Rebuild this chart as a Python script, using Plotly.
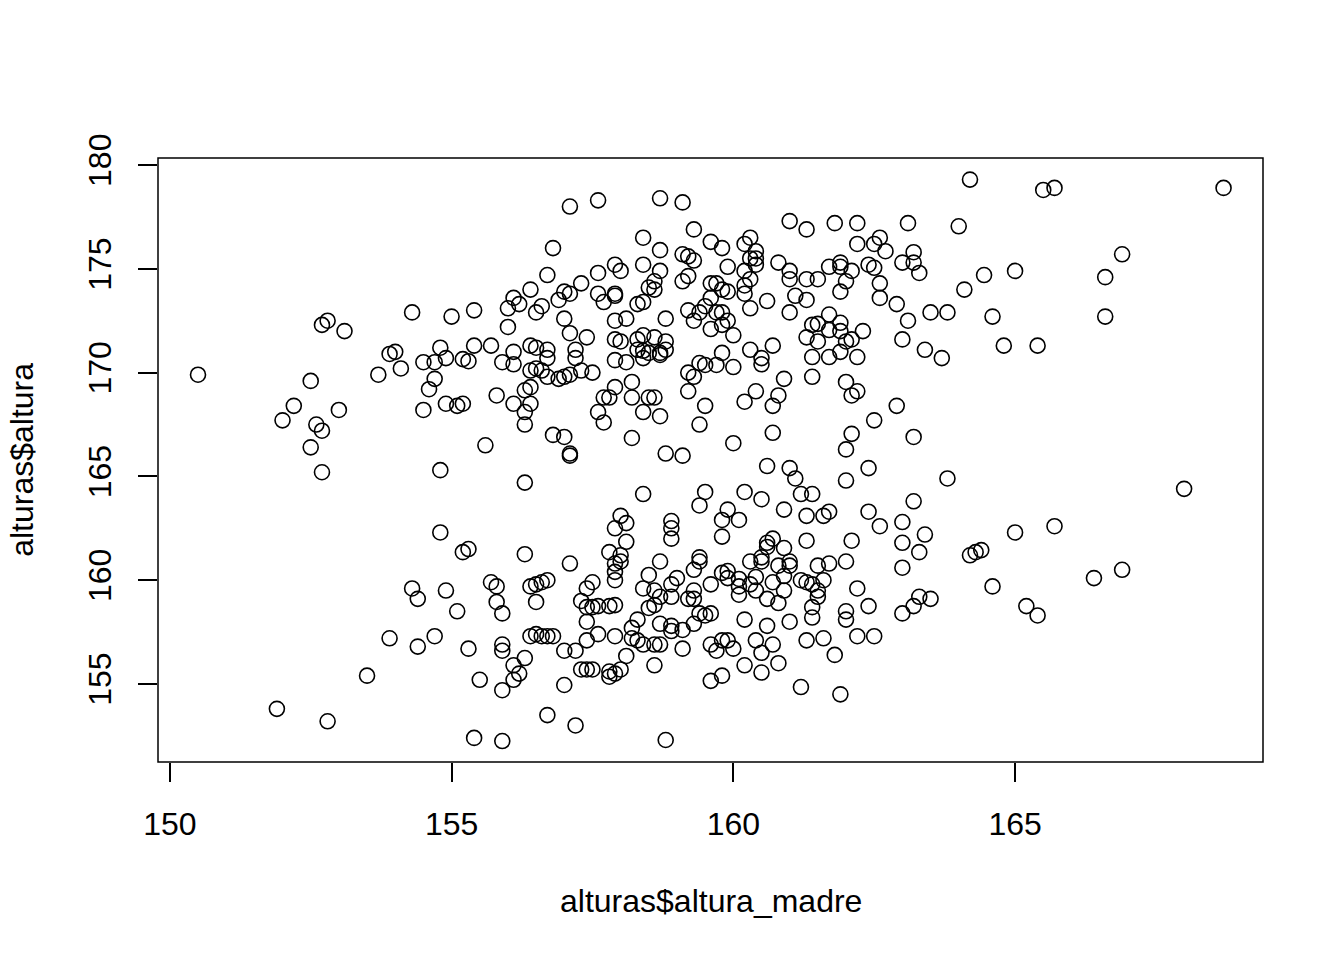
import plotly.graph_objects as go

# altura de la madre (x) y altura del hijo/a (y)
pts = [
(150.5,169.9),(152.5,169.6),(152.2,168.4),(152.0,167.7),(153.0,168.2),(152.6,167.5),(152.7,167.2),
(152.5,166.4),(152.7,165.2),(153.7,169.9),(154.1,170.2),(153.9,170.9),(154.0,171.0),(154.5,170.5),
(154.7,170.5),(154.7,169.7),(154.6,169.2),(154.5,168.2),(154.8,165.3),(154.3,172.9),(152.7,172.3),
(152.8,172.5),(153.1,172.0),
(154.9,170.7),(155.2,170.65),(155.3,170.55),(155.9,170.5),(156.1,170.4),(156.4,170.1),(156.5,170.2),
(156.6,170.1),(156.7,169.8),(156.7,170.7),(156.9,169.7),(157.0,169.8),(157.1,169.9),(157.2,170.7),
(157.3,170.1),(157.5,170.0),(157.9,170.6),(158.1,170.5),(158.4,170.7),(158.7,170.85),(159.4,170.46),
(159.5,170.37),(159.2,170.0),(159.3,169.8),(155.8,168.9),(154.9,168.5),(155.1,168.4),(155.2,168.5),
(156.1,168.5),(156.3,169.15),(156.4,169.3),(156.4,168.5),(156.3,168.1),(156.3,167.5),(157.7,168.8),
(157.8,168.8),(157.9,169.3),(158.2,169.55),(158.2,168.8),(158.4,168.1),(158.5,168.8),(158.6,168.8),
(158.7,167.9),(157.6,168.1),(157.7,167.6),(159.2,169.1),(159.5,168.4),(159.4,167.5),(156.8,167.0),
(157.0,166.9),(157.1,166.0),(157.1,166.1),(158.2,166.85),(158.8,166.1),(159.1,166.0),(155.6,166.5),
(156.3,164.7),(158.4,164.15),(159.5,164.25),(159.4,163.6),(158.0,163.1),(157.9,162.5),(158.1,162.75),
(158.1,161.85),(158.9,162.85),(158.9,162.5),(158.9,162.0),(154.8,162.3),(155.2,161.35),(155.3,161.5),
(156.3,161.25),(157.8,161.35),(158.0,161.2),(159.4,161.1),
(157.1,178.0),(157.6,178.3),(158.7,178.4),(159.1,178.2),(159.3,176.9),(159.6,176.3),(156.8,176.0),
(158.4,176.5),(158.7,175.9),(159.1,175.7),(159.2,175.6),(159.3,175.4),(158.4,175.2),(158.7,174.9),
(159.1,174.4),(159.2,174.65),(158.6,174.4),(158.5,174.1),(158.6,174.0),(157.9,175.2),(158.0,174.9),
(157.6,174.8),(156.7,174.7),(157.3,174.3),(157.0,173.9),(157.1,173.8),(156.9,173.5),(157.6,173.8),
(157.7,173.4),(157.9,173.8),(157.9,173.7),(158.3,173.3),(158.4,173.4),(158.8,172.6),(157.9,172.5),
(158.1,172.6),(156.4,174.0),(156.1,173.6),(156.2,173.3),(156.0,173.1),(156.6,173.2),(156.5,172.9),
(156.0,172.2),(155.4,173.0),(155.0,172.7),(157.9,171.6),(158.0,171.5),(157.4,171.7),(158.3,171.6),
(158.4,171.8),(158.6,171.7),(158.8,171.5),(158.8,171.1),(158.3,171.1),(158.4,171.05),(158.5,170.95),
(158.7,170.95),(154.8,171.2),(155.4,171.3),(155.7,171.3),(156.1,171.0),(156.4,171.3),(156.5,171.2),
(156.7,171.1),(157.2,171.1),(157.0,172.6),(157.1,171.9),(159.2,173.0),(159.4,172.9),(159.3,172.5),
(164.2,179.3),(161.0,177.3),(161.3,176.9),(161.8,177.2),(162.2,177.2),(163.1,177.2),(164.0,177.05),
(159.8,176.0),(160.2,176.2),(160.3,176.5),(160.4,175.85),(160.4,175.5),(160.3,175.5),(160.4,175.2),
(160.2,174.9),(159.9,175.1),(160.3,174.5),(160.8,175.3),(161.0,174.9),(161.0,174.5),(161.3,174.5),
(161.5,174.5),(161.7,175.1),(161.9,175.3),(161.9,175.1),(162.1,174.9),(162.0,174.4),(161.9,173.9),
(162.2,176.2),(162.5,176.2),(162.6,176.5),(162.7,175.85),(162.4,175.2),(162.5,175.05),(162.6,174.3),
(162.6,173.6),(163.0,175.3),(163.2,175.8),(163.2,175.3),(163.3,174.8),(162.9,173.3),(163.1,172.5),
(163.0,171.6),(163.4,171.1),(163.7,170.7),(163.5,172.9),(163.8,172.9),(164.1,174.0),(164.45,174.7),
(159.6,174.3),(159.7,174.3),(159.8,174.0),(159.9,173.9),(159.6,173.6),(159.5,173.2),(159.8,172.9),
(159.7,172.9),(159.6,172.1),(159.8,172.3),(160.0,171.8),(159.9,172.5),(159.8,170.95),(160.3,171.1),
(160.5,170.7),(160.7,171.3),(160.2,174.2),(160.2,173.8),(160.6,173.45),(160.3,173.1),(161.1,173.7),
(161.3,173.5),(161.0,172.9),(161.7,172.8),(161.9,172.4),(161.7,172.05),(161.9,172.0),(162.0,171.5),
(162.1,171.6),(162.3,172.0),(161.4,172.3),(161.5,172.35),(161.3,171.7),(161.5,171.5),(161.9,171.0),
(162.2,170.75),(161.7,170.75),(161.4,170.75),
(165.5,178.8),(165.7,178.9),(168.7,178.9),(166.9,175.7),(165.0,174.9),(166.6,174.6),(164.6,172.7),
(166.6,172.7),(164.8,171.3),(165.4,171.3),
(159.7,170.37),(160.0,170.27),(160.5,170.4),(160.9,169.7),(161.4,169.8),(162.0,169.55),(162.1,168.9),
(162.2,169.1),(160.4,169.1),(160.2,168.6),(160.8,168.9),(160.7,168.4),(162.9,168.4),(162.5,167.7),
(160.7,167.1),(160.0,166.6),(162.1,167.05),(162.0,166.3),(163.2,166.9),(160.6,165.5),(161.0,165.4),
(161.1,164.9),(162.0,164.8),(162.4,165.4),(163.8,164.9),(160.2,164.25),(160.5,163.9),(161.2,164.15),
(161.4,164.15),(160.9,163.4),(159.9,163.4),(159.8,162.9),(160.1,162.9),(161.3,163.1),(161.6,163.1),
(161.7,163.3),(162.4,163.3),(162.6,162.6),(163.0,162.8),(163.2,163.8),(163.4,162.2),(163.0,161.8),
(163.3,161.35),(159.8,162.1),(160.6,161.8),(160.7,162.0),(160.5,161.1),(160.6,161.6),(160.9,161.55),
(161.3,161.9),(162.1,161.9),(164.2,161.2),(164.3,161.35),(164.4,161.45),
(168.0,164.4),(165.0,162.3),(165.7,162.6),
(154.3,159.6),(154.4,159.1),(153.9,157.2),(154.4,156.8),(154.7,157.3),(153.5,155.4),(151.9,153.8),
(152.8,153.2),
(157.1,160.8),(157.9,160.8),(157.9,160.4),(157.9,160.0),(158.0,160.9),(158.7,160.9),(159.3,160.5),
(155.7,159.9),(155.8,159.7),(154.9,159.5),(156.4,159.7),(156.5,159.8),(156.6,159.9),(156.7,160.0),
(157.5,159.9),(157.4,159.6),(158.5,160.25),(158.4,159.6),(159.0,160.1),(158.9,159.8),(158.6,159.5),
(159.3,159.5),(159.3,159.1),(159.2,159.1),(158.9,159.2),(158.7,159.2),(159.6,159.8),(155.8,158.95),
(155.9,158.4),(155.1,158.5),(156.5,158.95),(157.3,159.0),(157.4,158.7),(157.5,158.7),(157.6,158.75),
(157.8,158.75),(157.9,158.8),(157.4,158.0),(158.2,157.7),(158.3,158.1),(158.5,158.66),(158.6,158.8),
(158.7,157.9),(158.9,157.8),(158.9,157.55),(159.1,157.6),(159.3,157.9),(155.3,156.7),(155.9,156.9),
(155.9,156.6),(156.4,157.3),(156.5,157.4),(156.6,157.3),(156.7,157.3),(156.8,157.3),(156.3,156.25),
(156.1,155.9),(156.2,155.5),(156.1,155.2),(155.9,154.7),(155.5,155.2),(157.0,156.6),(157.2,156.6),
(157.4,157.1),(157.6,157.4),(157.9,157.3),(158.2,157.2),(158.3,157.1),(158.4,156.9),(158.6,156.9),
(158.7,156.9),(159.1,156.7),(158.1,156.35),(157.3,155.7),(157.4,155.7),(157.5,155.7),(157.8,155.6),
(157.8,155.35),(157.9,155.5),(158.0,155.7),(158.6,155.9),(157.0,154.95),(156.7,153.5),(157.2,153.0),
(155.4,152.4),(155.9,152.25),(158.8,152.3),
(160.3,160.9),(160.5,160.9),(160.8,160.7),(161.0,160.7),(161.0,160.9),(161.5,160.7),(161.7,160.8),
(162.0,160.9),(163.0,160.6),(159.4,160.9),(159.8,160.35),(159.9,160.44),(159.9,160.1),(160.1,160.06),
(160.1,159.7),(160.1,159.3),(160.4,160.15),(160.3,159.8),(160.4,159.5),(160.7,159.9),(160.9,160.2),
(160.9,159.5),(160.6,159.1),(160.8,158.9),(161.2,160.0),(161.3,159.9),(161.4,159.8),(161.6,160.0),
(161.5,159.5),(161.5,159.2),(162.2,159.6),(162.4,158.75),(161.4,158.7),(161.4,158.2),(162.0,158.5),
(162.0,158.1),(163.0,158.4),(163.2,158.75),(163.3,159.2),(163.5,159.1),(159.4,158.4),(159.5,158.3),
(159.6,158.4),(160.2,158.1),(160.6,157.8),(161.0,158.0),(161.3,157.1),(161.6,157.2),(162.2,157.3),
(162.5,157.3),(161.8,156.4),(159.6,156.9),(159.7,156.6),(159.8,157.1),(159.9,157.1),(160.0,156.7),
(160.4,157.1),(160.5,156.5),(160.7,156.9),(160.2,155.9),(160.5,155.55),(160.8,156.0),(159.6,155.15),
(159.8,155.4),(161.2,154.85),(161.9,154.5),
(164.6,159.7),(165.2,158.75),(165.4,158.3),(166.4,160.1),(166.9,160.5),
]
altura_madre = [p[0] for p in pts]
altura = [p[1] for p in pts]

x_ticks = [150, 155, 160, 165]
y_ticks = [155, 160, 165, 170, 175, 180]
x_label = "alturas$altura_madre"
y_label = "alturas$altura"

FONT = "Liberation Sans, Arial, Helvetica, sans-serif"

fig = go.Figure(go.Scatter(
    x=altura_madre, y=altura, mode="markers",
    marker=dict(symbol="circle-open", size=15, color="black", line=dict(width=1.6, color="black")),
    hoverinfo="x+y",
))

# the page body has an 8px margin, so margins are offset by 8px
fig.update_layout(
    width=1344, height=960,
    margin=dict(l=150, r=89, t=150, b=206, pad=0),
    paper_bgcolor="white", plot_bgcolor="white",
    showlegend=False,
    font=dict(family=FONT, size=32, color="black"),
    xaxis=dict(range=[149.79, 169.40], tickvals=x_ticks, ticktext=[str(v) for v in x_ticks],
               ticks="outside", ticklen=19, tickwidth=1.5, tickcolor="black",
               showgrid=False, zeroline=False, showline=False,
               tickfont=dict(family=FONT, size=32, color="black"), ticklabelstandoff=15),
    yaxis=dict(range=[151.24, 180.34], tickvals=y_ticks, ticktext=[str(v) for v in y_ticks],
               ticks="outside", ticklen=19, tickwidth=1.5, tickcolor="black",
               showgrid=False, zeroline=False, showline=False, tickangle=-90,
               tickfont=dict(family=FONT, size=32, color="black"), ticklabelstandoff=14),
    shapes=[dict(type="rect", xref="paper", yref="paper", x0=0, y0=0, x1=1, y1=1,
                 line=dict(color="black", width=1.5), fillcolor="rgba(0,0,0,0)", layer="above")],
    annotations=[
        dict(text=x_label, xref="paper", yref="paper", x=0.5, y=-0.230, xanchor="center", yanchor="middle",
             showarrow=False, font=dict(family=FONT, size=32, color="black")),
        dict(text=y_label, xref="paper", yref="paper", x=-0.1232, y=0.5, xanchor="center", yanchor="middle",
             textangle=-90, showarrow=False, font=dict(family=FONT, size=32, color="black")),
    ],
)

fig.write_html("out.html")
